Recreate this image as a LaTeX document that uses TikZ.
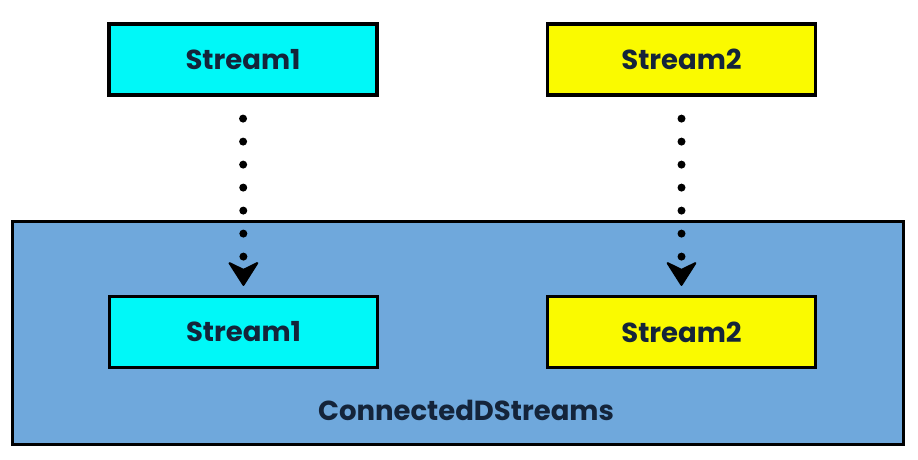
\documentclass[tikz,border=0pt]{standalone}
\usepackage{fontspec}
\setmainfont{Poppins}
\usetikzlibrary{arrows.meta}
\definecolor{cyanbox}{HTML}{00F8F8}
\definecolor{yellowbox}{HTML}{FAFA00}
\definecolor{bluebox}{HTML}{6FA8DC}
\definecolor{txt}{HTML}{14243A}
\tikzset{
  streambox/.style={draw=black, line width=3.2pt, minimum width=268pt, minimum height=71pt,
    inner sep=0pt, font=\fontsize{27.5}{32}\selectfont\bfseries, text=txt},
  container/.style={draw=black, line width=3pt, fill=bluebox, minimum width=891pt,
    minimum height=223pt, inner sep=0pt},
  dotflow/.style={line width=8pt, line cap=round, dash pattern=on 0pt off 23pt,
    -{Stealth[length=26pt,width=33pt,inset=8pt,round,line width=2pt]},
    shorten <=22pt, shorten >=9pt}
}
\begin{document}
\begin{tikzpicture}[x=1pt,y=-1pt]
\useasboundingbox (0,0) rectangle (918,460);
\fill[white] (0,0) rectangle (918,460);
\node[container] (big) at (458,333) {};
\node[streambox, fill=cyanbox] (s1top) at (243,59.5) {Stream1};
\node[streambox, fill=yellowbox] (s2top) at (681.5,59.5) {Stream2};
\node[streambox, fill=cyanbox] (s1in) at (243.5,332) {Stream1};
\node[streambox, fill=yellowbox] (s2in) at (681.5,332) {Stream2};
\node[font=\fontsize{27.5}{32}\selectfont\bfseries, text=txt, inner sep=0pt] (lbl) at (466,410) {ConnectedDStreams};
\draw[dotflow] (s1top.south) -- (s1in.north);
\draw[dotflow] (s2top.south) -- (s2in.north);
\end{tikzpicture}
\end{document}
